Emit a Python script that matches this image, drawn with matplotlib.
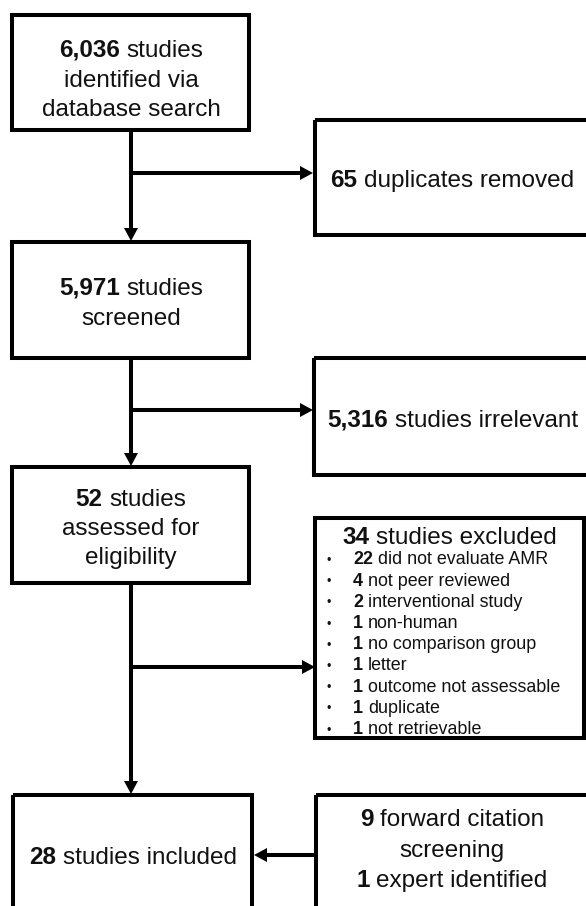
"""PRISMA-style flow diagram of the study selection."""

import matplotlib
matplotlib.use("Agg")
import matplotlib.pyplot as plt
from matplotlib.patches import Rectangle, Polygon

# counts
identified = 6036
duplicates = 65
screened = 5971
irrelevant = 5316
assessed = 52
excluded_reasons = [
    "did not evaluate AMR",
    "not peer reviewed",
    "interventional study",
    "non-human",
    "no comparison group",
    "letter",
    "outcome not assessable",
    "duplicate",
    "not retrievable",
]
excluded_counts = [22, 4, 2, 1, 1, 1, 1, 1, 1]
included = 28
forward_citation = 9
expert_identified = 1

plt.rcParams["font.family"] = ["Liberation Sans", "DejaVu Sans"]

W, H = 586, 906
fig = plt.figure(figsize=(W / 100, H / 100), dpi=100)
ax = fig.add_axes([0, 0, 1, 1])
ax.set_xlim(0, W)
ax.set_ylim(H, 0)  # pixel coordinates, y down
ax.axis("off")
renderer = fig.canvas.get_renderer()

LW = 2.9
INK = "#111111"
BIG = 17.5
SMALL = 12.9


def box(x0, y0, x1, y1):
    ax.add_patch(Rectangle((x0, y0), x1 - x0, y1 - y0, fill=False, lw=LW,
                           ec="black", joinstyle="miter"))


def arrow(x0, y0, x1, y1, head=13, half=7):
    dx, dy = x1 - x0, y1 - y0
    n = (dx ** 2 + dy ** 2) ** 0.5
    ux, uy = dx / n, dy / n
    bx, by = x1 - ux * head, y1 - uy * head
    ax.plot([x0, bx], [y0, by], color="black", lw=LW, solid_capstyle="butt")
    ax.add_patch(Polygon([(x1, y1), (bx - uy * half, by + ux * half),
                          (bx + uy * half, by - ux * half)],
                         closed=True, fc="black", ec="none"))


def measure(s, size, weight):
    t = ax.text(0, 0, s, fontsize=size, fontweight=weight)
    w = t.get_window_extent(renderer).width
    t.remove()
    return w


def rich(x, yc, parts, size=BIG, ha="center"):
    space = measure("x x", size, "normal") - measure("xx", size, "normal")
    widths = [measure(s, size, w) for s, w in parts]
    total = sum(widths) + space * (len(parts) - 1)
    left = x - total / 2 if ha == "center" else x
    base = yc + 0.36 * size * 100 / 72
    for (s, w), wd in zip(parts, widths):
        ax.text(left, base, s, fontsize=size, fontweight=w, ha="left",
                va="baseline", color=INK)
        left += wd + space


def num(n):
    return f"{n:,}"


# left column
trunk = 131
box(12, 15, 249, 130)
rich(trunk, 48, [(num(identified), "bold"), ("studies", "normal")])
rich(trunk, 78, [("identified via", "normal")])
rich(trunk, 107, [("database search", "normal")])

box(12, 242, 249, 358)
rich(trunk, 286, [(num(screened), "bold"), ("studies", "normal")])
rich(trunk, 316, [("screened", "normal")])

box(12, 467, 249, 583)
rich(trunk, 497, [(num(assessed), "bold"), ("studies", "normal")])
rich(trunk, 526, [("assessed for", "normal")])
rich(trunk, 555, [("eligibility", "normal")])

box(13, 795, 252, 940)
rich(133, 855, [(num(included), "bold"), ("studies included", "normal")])

# right column
box(315, 120, 600, 235)
rich(452, 178, [(num(duplicates), "bold"), ("duplicates removed", "normal")])

box(314, 358, 600, 475)
rich(453, 418, [(num(irrelevant), "bold"), ("studies irrelevant", "normal")])

box(315, 518, 584, 738)
rich(450, 535, [(str(sum(excluded_counts)), "bold"), ("studies excluded", "normal")])
for i, (c, reason) in enumerate(zip(excluded_counts, excluded_reasons)):
    yc = 558 + i * 21.2
    ax.text(329, yc + 6, "\u2022", fontsize=9, ha="center", va="baseline", color=INK)
    rich(353, yc, [(str(c), "bold"), (reason, "normal")], size=SMALL, ha="left")

box(316, 795, 600, 940)
rich(452, 817, [(str(forward_citation), "bold"), ("forward citation", "normal")])
rich(452, 848, [("screening", "normal")])
rich(452, 878, [(str(expert_identified), "bold"), ("expert identified", "normal")])

# arrows
arrow(trunk, 130, trunk, 241)
arrow(trunk, 173, 313, 173)
arrow(trunk, 358, trunk, 466)
arrow(trunk, 410, 313, 410)
arrow(trunk, 583, trunk, 794)
arrow(trunk, 667, 315, 667)
arrow(316, 855, 254, 855)

fig.savefig("out.png", dpi=100, facecolor="white")
plt.close(fig)
